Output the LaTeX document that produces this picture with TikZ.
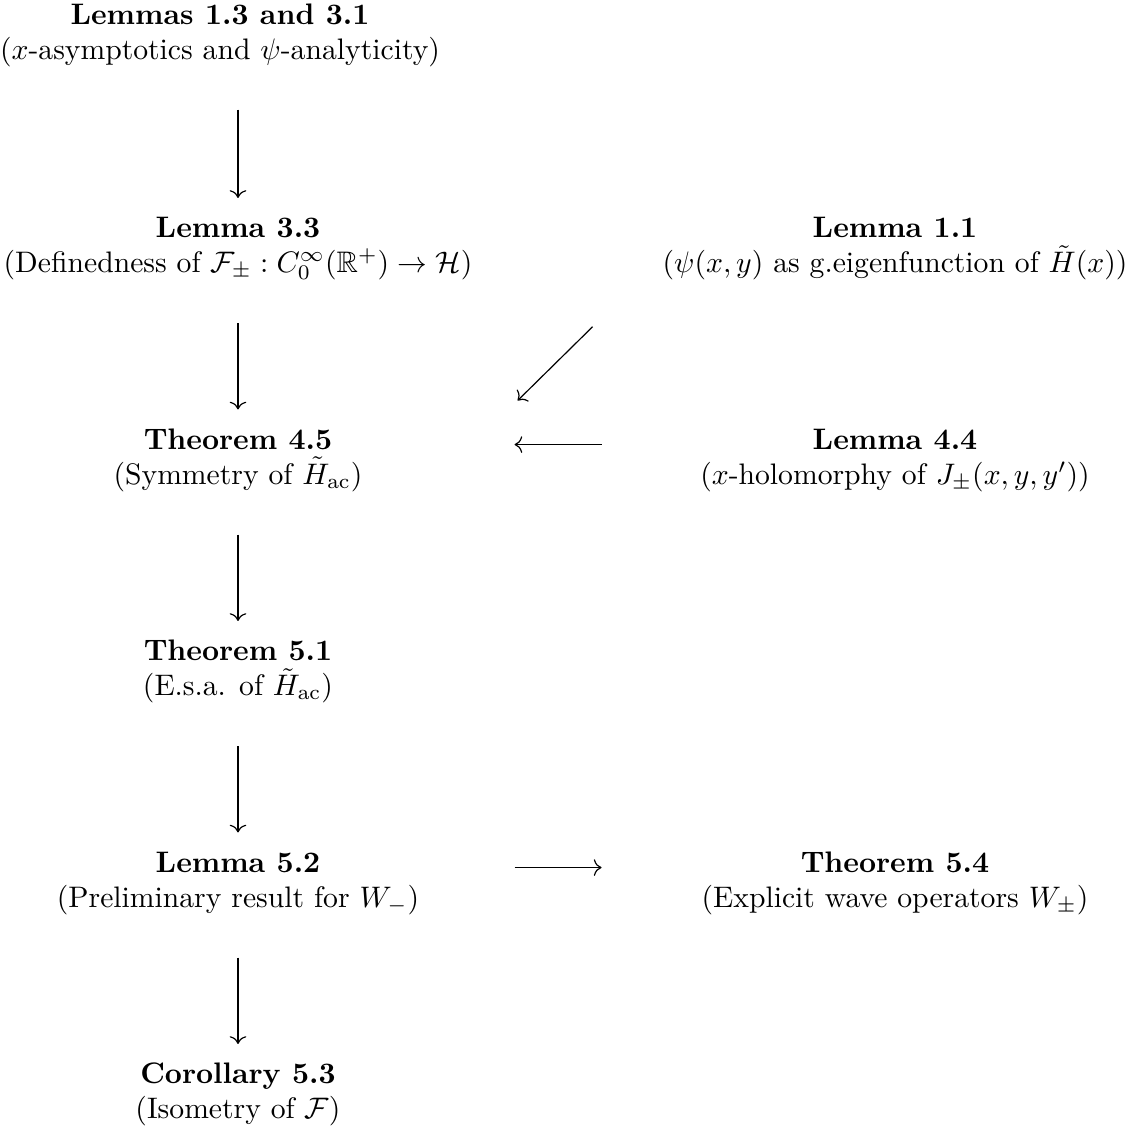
\documentclass[tikz,border=0pt]{standalone}
\usepackage{amsmath,amssymb}
\usetikzlibrary{arrows.meta}
\begin{document}
\begin{tikzpicture}[x=0.337pt,y=-0.337pt,
  ttl/.style={anchor=base,inner sep=0pt,minimum width=163.4pt,text height=7pt,text depth=4pt,font=\bfseries},
  sub/.style={anchor=base,inner sep=0pt,minimum width=163.4pt,text height=7.5pt,text depth=2.5pt},
  arr/.style={-{Computer Modern Rightarrow[length=2.6pt,width=5.6pt]},line width=0.4pt},
  vsh/.style={shorten <=14.35pt,shorten >=6.14pt}]
\useasboundingbox (0,0) rectangle (1126,1141);
% nodes
\node[ttl] (l13) at (220,24) {Lemmas 1.3 and 3.1};
\node[sub] (l13s) at (220,59) {($x$-asymptotics and $\psi$-analyticity)};
\node[ttl] (l33) at (238,237.5) {Lemma 3.3};
\node[sub] (l33s) at (238,272.5) {(Definedness of $\mathcal{F}_\pm : C_0^\infty(\mathbb{R}^+) \to \mathcal{H}$)};
\node[ttl] (l11) at (895,237.5) {Lemma 1.1};
\node[sub] (l11s) at (895,272.5) {($\psi(x,y)$ as g.eigenfunction of $\tilde H(x)$)};
\node[ttl] (t45) at (238,449) {Theorem 4.5};
\node[sub] (t45s) at (238,484) {(Symmetry of $\tilde H_{\mathrm{ac}}$)};
\node[ttl] (l44) at (895,449) {Lemma 4.4};
\node[sub] (l44s) at (895,484) {($x$-holomorphy of $J_\pm(x,y,y')$)};
\node[ttl] (t51) at (238,660.5) {Theorem 5.1};
\node[sub] (t51s) at (238,695.5) {(E.s.a. of $\tilde H_{\mathrm{ac}}$)};
\node[ttl] (l52) at (238,872) {Lemma 5.2};
\node[sub] (l52s) at (238,907) {(Preliminary result for $W_-$)};
\node[ttl] (t54) at (895,872) {Theorem 5.4};
\node[sub] (t54s) at (895,907) {(Explicit wave operators $W_\pm$)};
\node[ttl] (c53) at (238,1083.5) {Corollary 5.3};
\node[sub] (c53s) at (238,1118.5) {(Isometry of $\mathcal{F}$)};
% connectors
\draw[arr,vsh] (l13s.south -| l33.north) -- (l33.north);
\draw[arr,vsh] (l33s) -- (t45);
\draw[arr,vsh] (t45s) -- (t51);
\draw[arr,vsh] (t51s) -- (l52);
\draw[arr,vsh] (l52s) -- (c53);
\draw[arr,shorten <=22.2pt,shorten >=13pt] ([xshift=-4.2pt]l11s.south west) -- ([xshift=3.07pt]t45.north east);
\draw[arr,shorten <=17pt,shorten >=11.3pt] (l44.west) -- (t45.east);
\draw[arr,shorten <=11.3pt,shorten >=17pt] (l52.east) -- (t54.west);
\end{tikzpicture}
\end{document}
